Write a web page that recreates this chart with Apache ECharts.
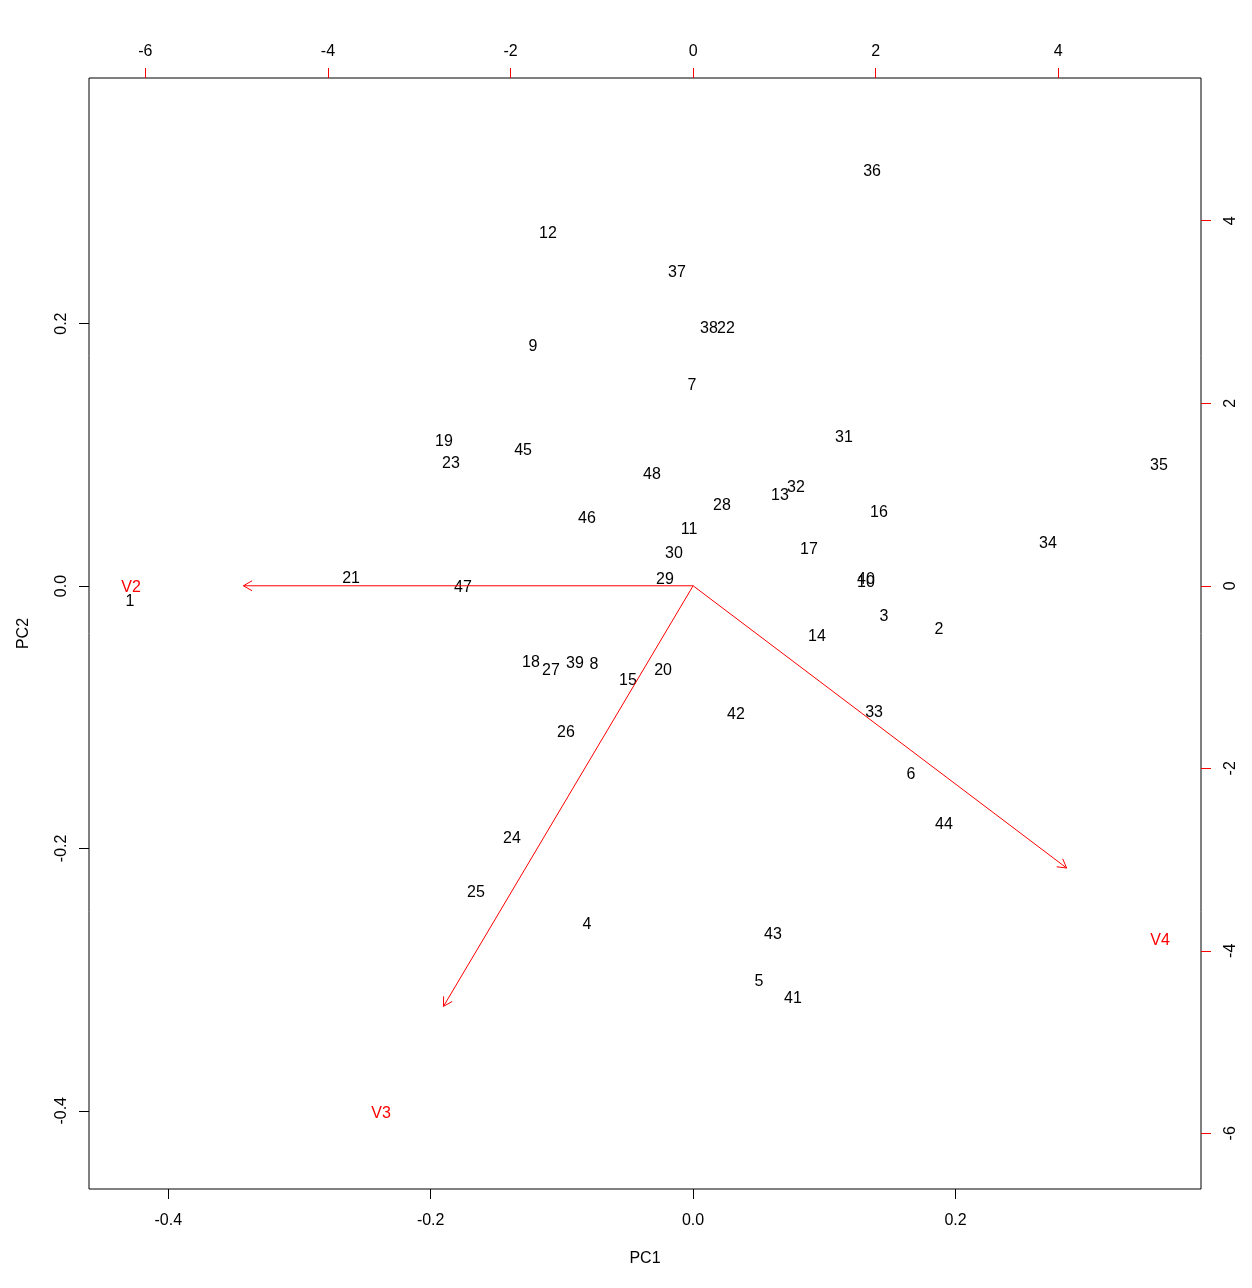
<!DOCTYPE html>
<html>
<head>
<meta charset="utf-8">
<script src="https://cdn.jsdelivr.net/npm/echarts@6/dist/echarts.min.js"></script>
<style>html,body{margin:0;padding:0;background:#fff;}#chart{width:1252px;height:1288px;}</style>
</head>
<body>
<div id="chart"></div>
<script>
// Observation scores (PC1, PC2) — bottom/left axes
var obsLabels = ['36','12','37','38','22','9','7','19','45','31','23','35','48','32','13','28','16','46','11','34','30','17','21','29','40','10','47','1','3','2','14','18','39','8','27','20','15','42','33','26','6','44','24','25','4','43','5','41'];
var pc1 = [0.1364,-0.1106,-0.0123,0.0121,0.0251,-0.1220,-0.0008,-0.1899,-0.1296,0.1150,-0.1845,0.3551,-0.0313,0.0784,0.0662,0.0220,0.1417,-0.0809,-0.0031,0.2705,-0.0146,0.0883,-0.2607,-0.0214,0.1318,0.1318,-0.1754,-0.4292,0.1455,0.1874,0.0944,-0.1236,-0.0900,-0.0755,-0.1083,-0.0229,-0.0496,0.0327,0.1379,-0.0969,0.1661,0.1912,-0.1380,-0.1655,-0.0809,0.0609,0.0502,0.0761];
var pc2 = [0.3171,0.2698,0.2401,0.1974,0.1974,0.1837,0.1540,0.1113,0.1044,0.1143,0.0945,0.0930,0.0861,0.0762,0.0701,0.0625,0.0572,0.0526,0.0442,0.0335,0.0259,0.0290,0.0069,0.0061,0.0061,0.0038,0.0000,-0.0107,-0.0221,-0.0320,-0.0373,-0.0572,-0.0579,-0.0587,-0.0633,-0.0633,-0.0709,-0.0968,-0.0953,-0.1105,-0.1425,-0.1806,-0.1913,-0.2325,-0.2569,-0.2645,-0.3003,-0.3133];

// Variable loadings — top/right axes (arrows drawn to 0.8 of loading, labels at loading)
var varNames = ['V2','V3','V4'];
var loadX = [-6.157,-3.418,5.114];
var loadY = [0.000,-5.761,-3.866];
var arrowScale = 0.8;

// Tick values
var pcTicks = [-0.4,-0.2,0.0,0.2];
var loadTicks = [-6,-4,-2,0,2,4];

var FONT = '"Liberation Sans", Arial, Helvetica, sans-serif';
var TEXT_DY = 2; // baseline correction for text glyphs
var obsData = pc1.map(function(v,i){return [v, pc2[i]];});
var loadData = loadX.map(function(v,i){return [v, loadY[i]];});

var chart = echarts.init(document.getElementById('chart'), null, {renderer:'canvas'});

function fmt1(v){ return (Math.abs(v) < 1e-9 ? 0 : v).toFixed(1); }
function fmt0(v){ return String(Math.round(v)); }

var option = {
  backgroundColor: '#ffffff',
  animation: false,
  grid: {left: 89, right: 51, top: 78, bottom: 99, show: true, borderColor: '#000', borderWidth: 1, backgroundColor: 'transparent'},
  xAxis: [
    {type:'value', position:'bottom', min:-0.4604, max:0.3871,
     name:'PC1', nameLocation:'middle', nameGap:62, nameMoveOverlap:false,
     nameTextStyle:{color:'#000', fontSize:16, fontFamily:FONT},
     axisLine:{show:false, onZero:false}, splitLine:{show:false},
     axisTick:{show:true, inside:false, length:10, customValues:pcTicks, lineStyle:{color:'#000', width:1}},
     axisLabel:{show:true, customValues:pcTicks, margin:24, color:'#000', fontSize:16, fontFamily:FONT, formatter:fmt1}},
    {type:'value', position:'top', min:-6.617, max:5.563,
     axisLine:{show:false, onZero:false}, splitLine:{show:false},
     axisTick:{show:true, inside:false, length:10, customValues:loadTicks, lineStyle:{color:'#ff0000', width:1}},
     axisLabel:{show:true, customValues:loadTicks, margin:18, color:'#000', fontSize:16, fontFamily:FONT, formatter:fmt0}}
  ],
  yAxis: [
    {type:'value', position:'left', min:-0.4596, max:0.3872,
     name:'PC2', nameLocation:'middle', nameGap:57, nameRotate:90, nameMoveOverlap:false,
     nameTextStyle:{color:'#000', fontSize:16, fontFamily:FONT},
     axisLine:{show:false, onZero:false}, splitLine:{show:false},
     axisTick:{show:true, inside:false, length:10, customValues:pcTicks, lineStyle:{color:'#000', width:1}},
     axisLabel:{show:true, customValues:pcTicks, rotate:90, margin:19, color:'#000', fontSize:16, fontFamily:FONT, formatter:fmt1}},
    {type:'value', position:'right', min:-6.610, max:5.564,
     axisLine:{show:false, onZero:false}, splitLine:{show:false},
     axisTick:{show:true, inside:false, length:10, customValues:loadTicks, lineStyle:{color:'#ff0000', width:1}},
     axisLabel:{show:true, customValues:loadTicks, rotate:90, margin:22, color:'#000', fontSize:16, fontFamily:FONT, formatter:fmt0}}
  ],
  series: [
    {type:'custom', name:'observations', xAxisIndex:0, yAxisIndex:0, data:obsData, silent:true,
     renderItem:function(params, api){
       var p = api.coord([api.value(0), api.value(1)]);
       return {type:'text', x:p[0], y:p[1] + TEXT_DY,
         style:{text:obsLabels[params.dataIndex], fill:'#000', fontSize:16, fontFamily:FONT, align:'center', verticalAlign:'middle'}};
     }},
    {type:'custom', name:'loadings', xAxisIndex:1, yAxisIndex:1, data:loadData, silent:true,
     renderItem:function(params, api){
       var lx = api.value(0), ly = api.value(1);
       var s = api.coord([0,0]);
       var e = api.coord([lx*arrowScale, ly*arrowScale]);
       var t = api.coord([lx, ly]);
       var ang = Math.atan2(e[1]-s[1], e[0]-s[0]);
       var L = 10, a = Math.PI/6;
       var h1 = [e[0]-L*Math.cos(ang-a), e[1]-L*Math.sin(ang-a)];
       var h2 = [e[0]-L*Math.cos(ang+a), e[1]-L*Math.sin(ang+a)];
       return {type:'group', children:[
         {type:'line', shape:{x1:s[0], y1:s[1], x2:e[0], y2:e[1]}, style:{stroke:'#ff0000', lineWidth:1}},
         {type:'polyline', shape:{points:[h1, e, h2]}, style:{stroke:'#ff0000', lineWidth:1, fill:null}},
         {type:'text', x:t[0], y:t[1] + TEXT_DY, style:{text:varNames[params.dataIndex], fill:'#ff0000', fontSize:16, fontFamily:FONT, align:'center', verticalAlign:'middle'}}
       ]};
     }}
  ]
};
chart.setOption(option);
</script>
</body>
</html>
